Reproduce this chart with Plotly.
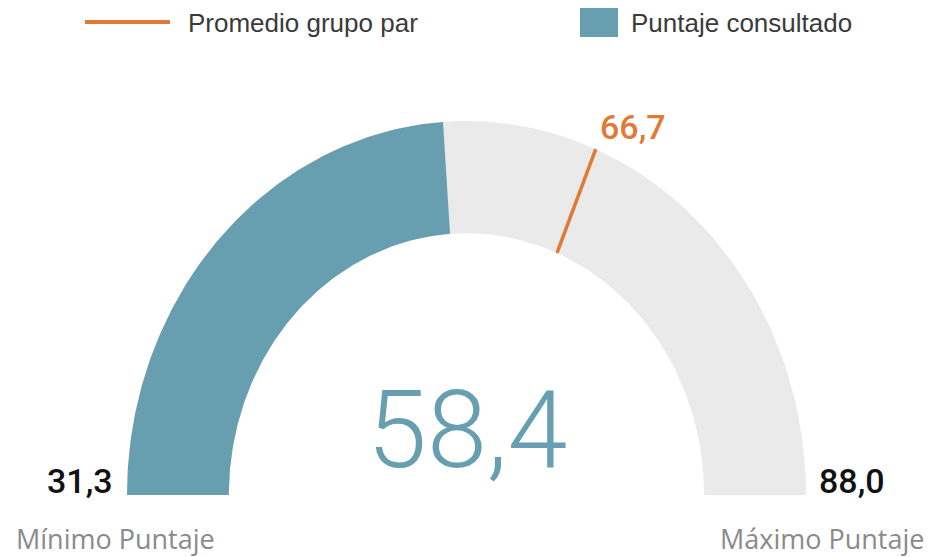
import numpy as np
import plotly.graph_objects as go

# Gauge values
min_score = 31.3
max_score = 88.0
score = 58.4
peer_avg = 66.7

legend_labels = ["Promedio grupo par", "Puntaje consultado"]
end_labels = ["Mínimo Puntaje", "Máximo Puntaje"]

TEAL = "#679FB1"
TRACK = "#EAEAEA"
ORANGE = "#E07A35"

W, H = 936, 557
INNER = 0.70  # inner radius relative to outer


def fmt(v):
    return f"{v:.1f}".replace(".", ",")


def frac(v):
    return (v - min_score) / (max_score - min_score)


def band(f0, f1, n=120):
    """Polygon of the gauge ring between two fractions of the scale."""
    th = np.pi * (1 - np.linspace(f0, f1, n))
    xo, yo = np.cos(th), np.sin(th)
    xi, yi = INNER * np.cos(th[::-1]), INNER * np.sin(th[::-1])
    return np.r_[xo, xi, xo[:1]], np.r_[yo, yi, yo[:1]]


fig = go.Figure()

# background track
tx, ty = band(0, 1)
fig.add_trace(go.Scatter(x=tx, y=ty, fill="toself", fillcolor=TRACK, mode="lines",
                         line=dict(width=0), hoverinfo="skip", showlegend=False))

# consulted score
sx, sy = band(0, frac(score))
fig.add_trace(go.Scatter(x=sx, y=sy, fill="toself", fillcolor=TEAL, mode="lines",
                         line=dict(width=0, color=TEAL), hoverinfo="skip", showlegend=False))

# peer group average marker
ta = np.pi * (1 - frac(peer_avg))
fig.add_trace(go.Scatter(x=[INNER * np.cos(ta), np.cos(ta)], y=[INNER * np.sin(ta), np.sin(ta)],
                         mode="lines", line=dict(color=ORANGE, width=3.5),
                         hoverinfo="skip", showlegend=False))

num_font = "Roboto, sans-serif"

# value in the middle
fig.add_annotation(x=0, y=0.0, xref="x", yref="y", text=fmt(score), showarrow=False,
                   xanchor="center", yanchor="bottom",
                   font=dict(family=num_font, size=108, color=TEAL, weight=300))

# peer average label
fig.add_annotation(x=np.cos(ta), y=np.sin(ta), xref="x", yref="y", text=fmt(peer_avg),
                   showarrow=False, xanchor="left", yanchor="bottom", xshift=2, yshift=0,
                   font=dict(family=num_font, size=34, color=ORANGE, weight=500))

# scale ends
fig.add_annotation(x=-1, y=0, xref="x", yref="y", text=fmt(min_score), showarrow=False,
                   xanchor="right", yanchor="bottom", xshift=-12, yshift=-8,
                   font=dict(family=num_font, size=34, color="#111111", weight=500))
fig.add_annotation(x=1, y=0, xref="x", yref="y", text=fmt(max_score), showarrow=False,
                   xanchor="left", yanchor="bottom", xshift=11, yshift=-8,
                   font=dict(family=num_font, size=34, color="#111111", weight=500))

lab_font = dict(family="Open Sans, sans-serif", size=27, color="#8a8a8a")
fig.add_annotation(x=115 / W, y=1 - 538 / H, xref="paper", yref="paper", text=end_labels[0],
                   showarrow=False, xanchor="center", yanchor="middle", font=lab_font)
fig.add_annotation(x=822 / W, y=1 - 538 / H, xref="paper", yref="paper", text=end_labels[1],
                   showarrow=False, xanchor="center", yanchor="middle", font=lab_font)

# legend
leg_font = dict(family="Liberation Sans, Arial, sans-serif", size=26, color="#3a3a3a")
fig.add_shape(type="line", xref="paper", yref="paper", x0=85 / W, x1=170 / W,
              y0=1 - 22 / H, y1=1 - 22 / H, line=dict(color=ORANGE, width=4))
fig.add_annotation(x=186 / W, y=1 - 23 / H, xref="paper", yref="paper", text=legend_labels[0],
                   showarrow=False, xanchor="left", yanchor="middle", font=leg_font)
fig.add_shape(type="rect", xref="paper", yref="paper", x0=580 / W, x1=618 / W,
              y0=1 - 37 / H, y1=1 - 8 / H, fillcolor=TEAL, line=dict(width=0))
fig.add_annotation(x=629 / W, y=1 - 23 / H, xref="paper", yref="paper", text=legend_labels[1],
                   showarrow=False, xanchor="left", yanchor="middle", font=leg_font)

# axes: centre of the gauge at (0,0), outer radius 1 (slightly taller than wide)
cx, cy, rx, ry = 466.5, 495, 339.5, 374
fig.update_xaxes(range=[-cx / rx, (W - cx) / rx], visible=False, fixedrange=True)
fig.update_yaxes(range=[-(H - cy) / ry, cy / ry], visible=False, fixedrange=True)
fig.update_layout(width=W, height=H, margin=dict(l=0, r=0, t=0, b=0),
                  plot_bgcolor="white", paper_bgcolor="white", showlegend=False)

fig.write_html("out.html")
